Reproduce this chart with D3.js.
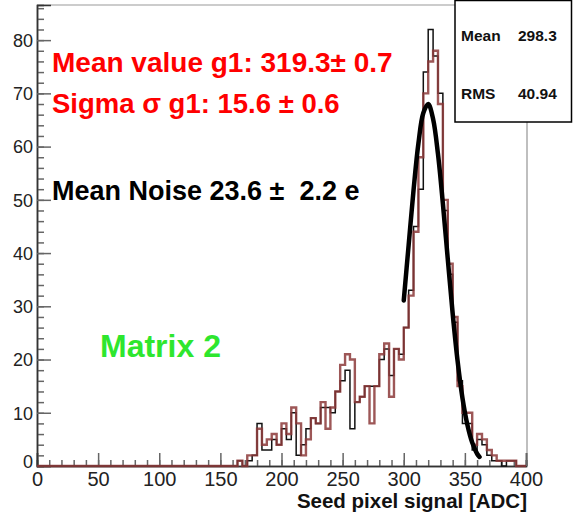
<!DOCTYPE html>
<html><head><meta charset="utf-8">
<script src="https://cdn.jsdelivr.net/npm/d3@7"></script>
<style>
html,body{margin:0;padding:0;background:#fff;}
svg{display:block;font-family:"Liberation Sans",Arial,sans-serif;}
</style></head>
<body>
<svg id="c" width="574" height="517"></svg>
<script>
// ---- data ----
const binWidth = 4;
const binStarts = [160,164,168,172,176,180,184,188,192,196,200,204,208,212,216,220,224,228,232,236,240,244,248,252,256,260,264,268,272,276,280,284,288,292,296,300,304,308,312,316,320,324,328,332,336,340,344,348,352,356,360,364,368,372,376,380,384,388,392,396];
const redCounts = [0,1,0,2,2,7,4,5,6,4,8,6,11,8,2,5,9,8,12,7,11,14,19,21,20,12,13,15,8,15,21,23,13,22,20,26,32,44,58,70,76,78,68,50,38,28,15,10,10,4,6,5,3,2,1,1,1,1,0,0];
const blackCounts = [0,1,0,1,2,8,3,3,5,4,7,5,10,2,4,7,9,8,11,11,10,14,16,18,7,12,13,15,15,15,20,22,17,22,21,26,33,45,52,74,82,77,70,48,36,27,16,8,8,3,5,4,2,1,1,0,1,1,0,0];
const fitX = [300,304,308,312,316,320,324,328,332,336,340,344,348,352,356,360,362];
const fitY = [31.1,41.5,51.8,60.6,66.3,68.0,65.2,58.6,49.3,38.9,28.7,19.8,12.8,7.8,4.4,2.3,1.7];
const xTicks = [0,50,100,150,200,250,300,350,400];
const yTicks = [0,10,20,30,40,50,60,70,80];
const statsLabels = ["Mean","RMS"];
const statsValues = ["298.3","40.94"];
const fitTexts = ["Mean value g1: 319.3\u00b1 0.7","Sigma \u03c3 g1: 15.6 \u00b1 0.6"];
const noiseText = "Mean Noise 23.6 \u00b1  2.2 e";
const matrixText = "Matrix 2";
const xTitle = "Seed pixel signal [ADC]";

// ---- layout ----
const svg = d3.select("#c");
const x = d3.scaleLinear().domain([0,400]).range([37,526]);
const y = d3.scaleLinear().domain([0,86.6]).range([466,5]);

// frame
svg.append("line").attr("x1",37).attr("x2",572).attr("y1",5).attr("y2",5).attr("stroke","#999").attr("stroke-width",1);
svg.append("line").attr("x1",x(400)+1).attr("x2",x(400)+1).attr("y1",5).attr("y2",466).attr("stroke","#aaa").attr("stroke-width",1.5);

// ticks
const gxMinor = svg.append("g").attr("transform","translate(0,466)")
  .call(d3.axisBottom(x).tickValues(d3.range(0,401,10)).tickSize(-6).tickFormat(""));
const gxMajor = svg.append("g").attr("transform","translate(0,466)")
  .call(d3.axisBottom(x).tickValues(xTicks).tickSize(-13).tickPadding(5).tickFormat(d3.format("d")));
const gyMinor = svg.append("g").attr("transform","translate(37,0)")
  .call(d3.axisLeft(y).tickValues(d3.range(0,87,2)).tickSize(-7).tickFormat(""));
const gyMajor = svg.append("g").attr("transform","translate(37,0)")
  .call(d3.axisLeft(y).tickValues(yTicks).tickSize(-14).tickPadding(4).tickFormat(d3.format("d")));
[gxMinor,gxMajor,gyMinor,gyMajor].forEach(g=>{
  g.select(".domain").attr("stroke","#333").attr("stroke-width",1.5);
  g.selectAll(".tick line").attr("stroke","#666").attr("stroke-width",1.5);
  g.selectAll(".tick text").attr("fill","#222").style("font-family","'Liberation Sans',Arial,sans-serif");
});
gxMajor.selectAll(".tick text").attr("dy","0.75em").style("font-size","20px");
gyMajor.selectAll(".tick text").attr("dy","0.35em").style("font-size","18px");
gyMajor.selectAll(".tick").filter(d=>d===0).select("text").attr("dy","0.1em");

// histograms
function histPoints(counts){
  const pts=[[0,0]];
  pts.push([binStarts[0],0]);
  binStarts.forEach((b,i)=>pts.push([b,counts[i]]));
  pts.push([binStarts[binStarts.length-1]+binWidth,0]);
  pts.push([400,0]);
  return pts;
}
const step = d3.line().x(d=>x(d[0])).y(d=>y(d[1])).curve(d3.curveStepAfter);
svg.append("path").attr("d",step(histPoints(blackCounts))).attr("fill","none").attr("stroke","#111").attr("stroke-width",1.5);
svg.append("path").attr("d",step(histPoints(redCounts))).attr("fill","none").attr("stroke","#8c3a3a").attr("stroke-width",2.4).attr("stroke-opacity",0.85);

// fit
const fitLine = d3.line().x((d,i)=>x(fitX[i])).y(d=>y(d)).curve(d3.curveCatmullRom);
svg.append("path").attr("d",fitLine(fitY)).attr("fill","none").attr("stroke","#000").attr("stroke-width",4.5).attr("stroke-linecap","round");

// texts
svg.append("text").attr("x",52).attr("y",72).attr("fill","#ff0000").style("font-size","28px").style("font-weight","bold").text(fitTexts[0]);
svg.append("text").attr("x",52).attr("y",113).attr("fill","#ff0000").style("font-size","27.5px").style("font-weight","bold").text(fitTexts[1]);
svg.append("text").attr("x",52).attr("y",200).attr("fill","#000").style("font-size","27px").style("font-weight","bold").attr("xml:space","preserve").text(noiseText);
svg.append("text").attr("x",100).attr("y",357).attr("fill","#2ee62e").style("font-size","32px").style("font-weight","bold").text(matrixText);
svg.append("text").attr("x",527).attr("y",508).attr("text-anchor","end").attr("fill","#111").style("font-size","20.5px").style("font-weight","bold").text(xTitle);

// stats box
svg.append("rect").attr("x",455).attr("y",0.5).attr("width",116.5).attr("height",121.5).attr("fill","#fff").attr("stroke","#000").attr("stroke-width",1.5);
const rowsY=[41,99];
statsLabels.forEach((l,i)=>{
  svg.append("text").attr("x",461).attr("y",rowsY[i]).style("font-size","15.5px").style("font-weight","bold").attr("fill","#111").text(l);
  svg.append("text").attr("x",518).attr("y",rowsY[i]).style("font-size","15.5px").style("font-weight","bold").attr("fill","#111").text(statsValues[i]);
});
</script>
</body></html>
